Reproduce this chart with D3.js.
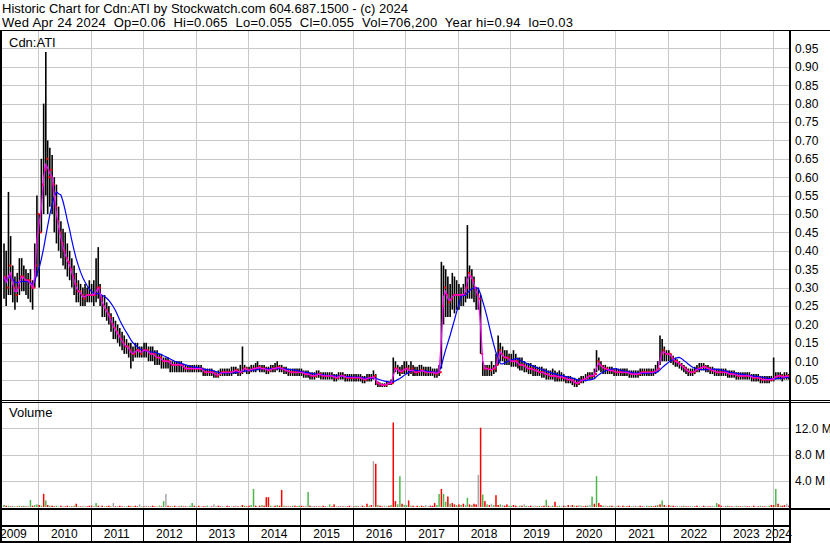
<!DOCTYPE html>
<html>
<head>
<meta charset="utf-8">
<script src="https://cdn.jsdelivr.net/npm/d3@7"></script>
<style>
  body { margin: 0; background: #fff; }
  text { font-family: Arial, "Liberation Sans", sans-serif; fill: #000; }
</style>
</head>
<body>
<svg id="chart" width="830" height="543"></svg>
<script>
// half-month bars, May 2009 .. Apr 2024
const closes = [
  // 2009 May-Dec
  .33, .30, .36, .32, .30, .28, .30, .33, .33, .32, .32, .32, .30, .30, .36, .50,
  // 2010
  .45, .58, .62, .65, .60, .62, .58, .52, .48, .45, .42, .40, .38, .37, .35, .33, .31, .29, .29, .28, .27, .28, .28, .28,
  // 2011
  .28, .28, .30, .30, .27, .25, .24, .23, .22, .20, .19, .18, .17, .16, .15, .14, .14, .13, .12, .12, .13, .13, .12, .13,
  // 2012
  .13, .13, .12, .12, .12, .11, .11, .11, .10, .10, .10, .10, .09, .09, .09, .09, .09, .09, .08, .08, .08, .08, .08, .08,
  // 2013
  .08, .08, .08, .07, .07, .07, .07, .07, .065, .06, .065, .07, .07, .07, .07, .07, .07, .075, .075, .07, .07, .08, .08, .075,
  // 2014
  .075, .08, .08, .08, .085, .08, .08, .08, .075, .075, .08, .08, .08, .085, .08, .08, .075, .075, .07, .07, .07, .07, .07, .07,
  // 2015
  .07, .065, .065, .065, .06, .06, .06, .065, .065, .06, .06, .06, .06, .06, .06, .055, .055, .06, .06, .06, .055, .055, .055, .055,
  // 2016
  .055, .055, .055, .055, .05, .05, .055, .055, .055, .06, .04, .04, .035, .035, .035, .04, .04, .04, .08, .08, .075, .07, .075, .08,
  // 2017
  .08, .07, .08, .07, .07, .07, .075, .075, .07, .07, .07, .07, .07, .065, .07, .07, .25, .30, .28, .26, .27, .28, .28, .28,
  // 2018
  .28, .28, .28, .30, .34, .33, .32, .30, .28, .27, .12, .08, .08, .08, .075, .08, .08, .09, .13, .12, .11, .11, .11, .10,
  // 2019
  .10, .10, .10, .09, .09, .09, .085, .08, .08, .08, .075, .075, .07, .07, .07, .065, .065, .06, .06, .06, .06, .055, .06, .055,
  // 2020
  .055, .05, .05, .05, .045, .04, .04, .045, .05, .05, .055, .06, .06, .06, .065, .10, .09, .085, .08, .08, .075, .075, .075, .07,
  // 2021
  .07, .07, .07, .07, .07, .07, .065, .065, .065, .065, .065, .07, .07, .07, .07, .07, .07, .07, .075, .08, .12, .13, .12, .12,
  // 2022
  .12, .11, .10, .10, .095, .09, .085, .08, .075, .07, .07, .07, .075, .08, .08, .085, .085, .08, .08, .075, .075, .07, .07, .07,
  // 2023
  .07, .07, .07, .065, .065, .065, .065, .06, .06, .06, .06, .06, .06, .06, .055, .055, .055, .055, .05, .05, .05, .05, .05, .05,
  // 2024 Jan-Apr
  .055, .06, .06, .06, .055, .06, .06, .055
];

const highs = [
  .42, .40, .56, .44, .36, .33, .34, .38, .38, .36, .35, .34, .35, .32, .42, .55,
  .50, .65, .80, .94, .70, .68, .66, .60, .58, .52, .48, .46, .45, .42, .40, .38, .36, .34, .32, .31, .30, .31, .30, .32,
  .31, .32, .38, .41, .31, .28, .28, .26, .25, .23, .22, .21, .20, .19, .18, .17, .16, .15, .15, .14, .15, .15, .14, .14,
  .15, .15, .14, .14, .14, .13, .13, .12, .12, .11, .11, .11, .10, .10, .10, .10, .10, .10, .09, .09, .09, .09, .09, .09,
  .09, .09, .09, .08, .08, .08, .08, .08, .075, .07, .075, .08, .08, .08, .08, .08, .085, .085, .085, .08, .09, .14, .09, .085,
  .085, .09, .09, .095, .10, .09, .09, .09, .085, .085, .09, .09, .095, .10, .09, .09, .085, .085, .08, .08, .08, .08, .08, .08,
  .08, .075, .075, .075, .07, .07, .07, .075, .075, .07, .07, .07, .07, .07, .07, .065, .065, .07, .07, .07, .065, .065, .065, .065,
  .065, .065, .065, .065, .06, .06, .065, .065, .065, .075, .065, .045, .04, .04, .04, .045, .045, .05, .11, .10, .09, .085, .09, .10,
  .10, .09, .10, .09, .085, .085, .09, .09, .085, .085, .085, .085, .08, .08, .08, .09, .37, .36, .35, .33, .31, .34, .33, .32,
  .31, .30, .31, .33, .47, .36, .35, .33, .30, .30, .28, .10, .09, .09, .09, .10, .09, .12, .17, .15, .14, .13, .13, .12,
  .12, .13, .12, .11, .11, .11, .10, .095, .095, .095, .09, .09, .085, .085, .085, .08, .08, .075, .075, .08, .075, .07, .075, .07,
  .065, .06, .06, .06, .055, .055, .05, .055, .06, .06, .065, .07, .07, .07, .08, .13, .11, .10, .09, .09, .085, .085, .085, .08,
  .08, .08, .08, .08, .08, .08, .075, .075, .075, .075, .075, .08, .08, .08, .08, .08, .08, .08, .09, .10, .17, .16, .14, .13,
  .13, .12, .115, .11, .105, .10, .095, .09, .085, .08, .08, .08, .085, .09, .095, .095, .095, .09, .09, .085, .085, .08, .08, .08,
  .08, .08, .08, .075, .075, .075, .075, .07, .07, .07, .07, .07, .07, .07, .065, .065, .065, .065, .06, .06, .06, .06, .06, .06,
  .11, .07, .07, .07, .065, .07, .07, .065
];

const lows = [
  .27, .25, .28, .28, .26, .24, .26, .28, .29, .29, .28, .27, .26, .24, .30, .33,
  .30, .45, .50, .55, .50, .52, .50, .45, .42, .40, .38, .36, .35, .33, .32, .30, .28, .26, .26, .25, .25, .25, .26, .26,
  .26, .25, .26, .27, .25, .22, .22, .21, .20, .18, .16, .16, .15, .14, .13, .12, .12, .11, .08, .10, .11, .11, .11, .11,
  .11, .11, .10, .10, .10, .09, .09, .09, .08, .08, .08, .08, .07, .07, .07, .07, .07, .07, .07, .07, .07, .07, .07, .07,
  .07, .07, .07, .06, .06, .06, .06, .06, .055, .055, .055, .06, .06, .06, .06, .06, .06, .065, .065, .06, .06, .065, .07, .065,
  .065, .07, .07, .07, .075, .07, .07, .07, .065, .065, .07, .07, .07, .075, .07, .07, .065, .065, .06, .06, .06, .06, .06, .06,
  .06, .055, .055, .055, .05, .05, .05, .055, .055, .05, .05, .05, .05, .05, .05, .045, .045, .05, .05, .05, .045, .045, .045, .045,
  .045, .045, .045, .045, .04, .04, .045, .045, .045, .05, .035, .03, .03, .03, .03, .03, .035, .035, .04, .07, .065, .06, .065, .065,
  .065, .06, .065, .06, .06, .06, .06, .06, .06, .06, .06, .06, .06, .055, .055, .06, .08, .20, .22, .22, .22, .24, .23, .24,
  .24, .25, .25, .26, .27, .27, .27, .26, .24, .24, .12, .06, .06, .06, .06, .06, .065, .07, .09, .10, .10, .09, .09, .09,
  .085, .085, .085, .08, .075, .075, .07, .07, .065, .065, .06, .06, .06, .06, .055, .055, .05, .05, .05, .05, .045, .045, .045, .045,
  .045, .04, .04, .04, .035, .03, .03, .035, .04, .04, .045, .05, .05, .05, .055, .07, .075, .07, .065, .065, .065, .065, .065, .06,
  .06, .06, .06, .06, .06, .06, .055, .055, .055, .055, .055, .06, .06, .06, .06, .06, .06, .06, .065, .07, .09, .10, .10, .10,
  .10, .095, .09, .085, .085, .08, .075, .07, .065, .06, .06, .06, .065, .07, .07, .075, .075, .07, .07, .065, .065, .06, .06, .06,
  .06, .06, .06, .055, .055, .055, .055, .05, .05, .05, .05, .05, .05, .05, .045, .045, .045, .045, .04, .04, .04, .04, .04, .045,
  .045, .05, .05, .05, .045, .05, .05, .05
];

// volume in millions, peak daily bar in each half month
const volume = [
  .3, .2, .2, .1, .2, .1, .1, .2, .1, .2, .1, .2, 1.07, .2, .3, .4,
  .3, .2, 2.0, 1.0, .3, .2, .2, .1, .2, .1, .2, .1, .1, .2, .1, .1, .2, .5, .1, .1, .2, .1, .1, .2,
  .2, .1, .6, .2, .1, .2, .1, .1, .2, .1, .6, .1, .1, .2, .1, .1, .1, .2, .1, .1, .2, .1, .4, .1,
  .1, .2, .1, .1, .2, .1, .1, .2, .1, .9, 2.0, .2, .1, .1, .2, .1, .1, .2, .1, .1, .1, .2, .6, .2,
  .1, .2, .1, .1, .1, .2, .1, .1, .4, .1, .2, .1, .1, .1, .2, .1, .1, .1, .2, .1, .1, .3, .2, .1,
  .2, .3, 2.75, .2, .1, .2, .3, .2, 1.5, 1.5, .2, .1, .2, .3, .2, 2.6, .2, .1, .2, .1, .2, .2, .1, .2,
  .2, .1, .2, 2.3, .2, .1, .1, .2, .1, .1, .2, .1, .1, .4, .1, .4, .1, .1, .2, .1, .1, .1, .2, .1,
  .1, .2, .1, .1, .2, .1, .5, .2, .3, 7.0, 6.6, .3, .2, .1, .2, .1, .2, .3, 12.9, .9, .4, 4.7, .5, .3,
  .3, 1.0, .2, .2, .1, .2, .1, .2, .1, .3, .1, .2, .2, .6, .3, 2.0, 2.75, 2.0, .8, 1.6, .5, .6, .4, .3,
  .4, .3, .5, .3, 1.4, .4, .3, .5, .4, 4.9, 12.1, 1.9, .9, .4, .3, .5, .3, 1.8, .3, .4, .3, .2, .4, .2,
  .2, .3, .2, .1, .2, .2, .4, .2, .1, .2, .1, .2, .1, .2, .1, .2, 1.1, .2, .1, .2, .8, .1, .2, .1,
  .2, .1, .3, .2, .3, .2, .2, .3, .2, .1, .2, .2, .3, 1.6, .5, 4.7, .6, .3, .2, .2, .1, .2, .2, .1,
  .1, .2, .1, .2, .1, .1, .2, .1, .2, .1, .1, .2, .1, .1, .2, .1, .2, .1, .2, .3, .4, 1.0, .3, .2,
  .3, .2, .2, .1, .2, .1, .1, .2, .1, .1, .2, .1, .1, .2, .1, .1, .2, .1, .1, .1, .2, .1, .6, .4,
  .2, .1, .1, .2, .1, .1, .1, .2, .1, .1, .1, .2, .1, .1, .1, .2, .1, .1, .2, .1, .1, .1, .2, .3,
  .3, 2.75, .5, .2, .2, .3, .5, .2
];

// r = down day, g = up day, k = unchanged
const volDir = [
  "grgrkgrgrgrkgrgg",
  "rgrgrgrrgkrgrrgrgrgrkgrr",
  "rggrkrgrrgkrgrrkgrrgrrkg",
  "rkrgrrkgrgkrrgrkrgrrkggr",
  "grkrrgkrkgrrgkrrgrkrgrgr",
  "rggrkrgrrrgkrgrrgrkrgrrg",
  "rrkgrgrkrgrrkgrrgrkrgrrk",
  "rgrkrgrgrkrgrrkgrgrrggrg",
  "grgrkrgrrkgrrrggrggrgrrg",
  "rgrkgrgrrkrgrgrkgrrgkrrg",
  "grrkgrkgrrgkrgrrgrkgrrgk",
  "rgrkrgrkgrrgkgrgrrgkrgrk",
  "grkrgrrgkrgrrkgrgrrgrgrk",
  "rgrrkgrgrrkgrrgkrgrrkggr",
  "rkrgrrkgrrgkrrgrkrgrrkgr",
  "rgrgrrkr"
].join("");

const years = d3.range(2009, 2025);
const priceTicks = d3.range(1, 20).map(d => d * 0.05);
const volTicks = [4, 8, 12];

const headLine1 = "Historic Chart for Cdn:ATI by Stockwatch.com 604.687.1500 - (c) 2024";
const headLine2 = "Wed Apr 24 2024  Op=0.06  Hi=0.065  Lo=0.055  Cl=0.055  Vol=706,200  Year hi=0.94  lo=0.03";

const COLORS = {
  bar: "#000",
  close: "#ff0000",
  fast: "#ff00ff",
  slow: "#0000ff",
  grid: "#c8c8c8",
  up: "#4cb84c",
  down: "#ff0000",
  flat: "#a8a8a8"
};

// bar date: middle of each half month, starting May 2009
const dates = closes.map((d, i) => {
  const m = 4 + Math.floor(i / 2);
  return new Date(2009 + Math.floor(m / 12), m % 12, i % 2 ? 23 : 8);
});

function movingAverage(values, n) {
  return values.map((d, i) => d3.mean(values.slice(Math.max(0, i - n + 1), i + 1)));
}
const fastMA = movingAverage(closes, 2);
const slowMA = movingAverage(closes, 10);

const left = 2, right = 789;
const priceTop = 31, priceBottom = 401;
const volTop = 403, volBottom = 509;

const svg = d3.select("#chart");

const x = d3.scaleTime()
  .domain([new Date(2009, 3, 24), new Date(2024, 3, 24)])
  .range([left, right]);

const y = d3.scaleLinear()
  .domain([0, 1])
  .range([398, 30]);

const vy = d3.scaleLinear()
  .domain([0, 12])
  .range([507, 428.4]);

svg.append("rect").attr("width", 830).attr("height", 543).attr("fill", "#fff");

// header
svg.append("text").attr("x", 2).attr("y", 13).style("font-size", "13px")
  .attr("textLength", 406).attr("lengthAdjust", "spacing").text(headLine1);
svg.append("text").attr("x", 2).attr("y", 27).style("font-size", "13px")
  .attr("xml:space", "preserve").style("white-space", "pre")
  .attr("textLength", 571).attr("lengthAdjust", "spacing").text(headLine2);

const defs = svg.append("defs");
defs.append("clipPath").attr("id", "clipPrice")
  .append("rect").attr("x", left).attr("y", priceTop).attr("width", right - left).attr("height", priceBottom - priceTop);
defs.append("clipPath").attr("id", "clipVol")
  .append("rect").attr("x", left).attr("y", volTop).attr("width", right - left).attr("height", volBottom - volTop);

const yearBounds = years.slice(1).map(yr => x(new Date(yr, 0, 1)));

// grid lines
const grid = svg.append("g").attr("stroke", COLORS.grid).attr("stroke-width", 1).attr("shape-rendering", "crispEdges");
grid.selectAll(".pg").data(priceTicks).enter().append("line")
  .attr("x1", left).attr("x2", right)
  .attr("y1", d => Math.round(y(d)) + 0.5).attr("y2", d => Math.round(y(d)) + 0.5);
grid.selectAll(".vg").data(volTicks).enter().append("line")
  .attr("x1", left).attr("x2", right)
  .attr("y1", d => Math.round(vy(d)) + 0.5).attr("y2", d => Math.round(vy(d)) + 0.5);
grid.selectAll(".xg").data(yearBounds).enter().append("line")
  .attr("x1", d => Math.round(d) + 0.5).attr("x2", d => Math.round(d) + 0.5)
  .attr("y1", priceTop).attr("y2", volBottom);

// price bars
const price = svg.append("g").attr("clip-path", "url(#clipPrice)");

price.selectAll(".bar").data(closes).enter().append("line")
  .attr("x1", (d, i) => x(dates[i])).attr("x2", (d, i) => x(dates[i]))
  .attr("y1", (d, i) => y(highs[i])).attr("y2", (d, i) => y(lows[i]))
  .attr("stroke", COLORS.bar).attr("stroke-width", 1.6);

price.selectAll(".cl").data(closes).enter().append("rect")
  .attr("x", (d, i) => x(dates[i]) + 0.6).attr("y", d => y(d) - 1)
  .attr("width", 2).attr("height", 2)
  .attr("fill", COLORS.close);

const maLine = d3.line().x((d, i) => x(dates[i])).y(d => y(d));

price.append("path").attr("d", maLine(slowMA))
  .attr("fill", "none").attr("stroke", COLORS.slow).attr("stroke-width", 1.2);
price.append("path").attr("d", maLine(fastMA))
  .attr("fill", "none").attr("stroke", COLORS.fast).attr("stroke-width", 1.2);

// volume bars
const vol = svg.append("g").attr("clip-path", "url(#clipVol)");
vol.selectAll(".vb").data(volume).enter().append("rect")
  .attr("x", (d, i) => x(dates[i]) - 0.75)
  .attr("y", d => vy(d))
  .attr("width", 1.5)
  .attr("height", d => vy(0) - vy(d))
  .attr("fill", (d, i) => volDir[i] === "g" ? COLORS.up : volDir[i] === "r" ? COLORS.down : COLORS.flat);

// right axes
const priceAxis = d3.axisRight(y).tickValues(priceTicks.filter(d => d < 0.96)).tickSize(0).tickPadding(6)
  .tickFormat(d3.format(".2f"));
svg.append("g").attr("transform", "translate(789,0)").call(priceAxis)
  .call(g => g.select(".domain").remove())
  .selectAll("text").style("font-size", "12px").attr("font-family", null);

const volAxis = d3.axisRight(vy).tickValues(volTicks).tickSize(0).tickPadding(6)
  .tickFormat(d => d.toFixed(1) + " M");
svg.append("g").attr("transform", "translate(789,0)").call(volAxis)
  .call(g => g.select(".domain").remove())
  .selectAll("text").style("font-size", "12px").attr("font-family", null);

// panel labels
svg.append("text").attr("x", 9).attr("y", 47).style("font-size", "13px").text("Cdn:ATI");
svg.append("text").attr("x", 9).attr("y", 417).style("font-size", "13px").text("Volume");

// frame
const frame = svg.append("g").attr("stroke", "#000").attr("shape-rendering", "crispEdges");
frame.append("line").attr("x1", 0).attr("x2", 830).attr("y1", 30.5).attr("y2", 30.5);
frame.append("line").attr("x1", 0).attr("x2", 830).attr("y1", 400.5).attr("y2", 400.5);
frame.append("line").attr("x1", 0).attr("x2", 830).attr("y1", 402.5).attr("y2", 402.5);
frame.append("line").attr("x1", 0).attr("x2", 830).attr("y1", 509).attr("y2", 509).attr("stroke-width", 2);
frame.append("line").attr("x1", 0).attr("x2", 790).attr("y1", 526).attr("y2", 526).attr("stroke-width", 2);
frame.append("line").attr("x1", 0).attr("x2", 790).attr("y1", 541.5).attr("y2", 541.5).attr("stroke-width", 2);
frame.append("line").attr("x1", 1).attr("x2", 1).attr("y1", 30).attr("y2", 543).attr("stroke-width", 2);
frame.append("line").attr("x1", 789.5).attr("x2", 789.5).attr("y1", 30).attr("y2", 543).attr("stroke-width", 2);
frame.selectAll(".ys").data(yearBounds).enter().append("line")
  .attr("x1", d => Math.round(d) + 0.5).attr("x2", d => Math.round(d) + 0.5)
  .attr("y1", 509).attr("y2", 542);

// year labels
const halfW = 13.4;
svg.selectAll(".yl").data(years).enter().append("text")
  .attr("x", yr => {
    const mid = x(new Date(yr, 6, 2));
    return Math.max(halfW, Math.min(792 - halfW, mid));
  })
  .attr("y", 538)
  .attr("text-anchor", "middle")
  .style("font-size", "12px")
  .text(d => d);
</script>
</body>
</html>
